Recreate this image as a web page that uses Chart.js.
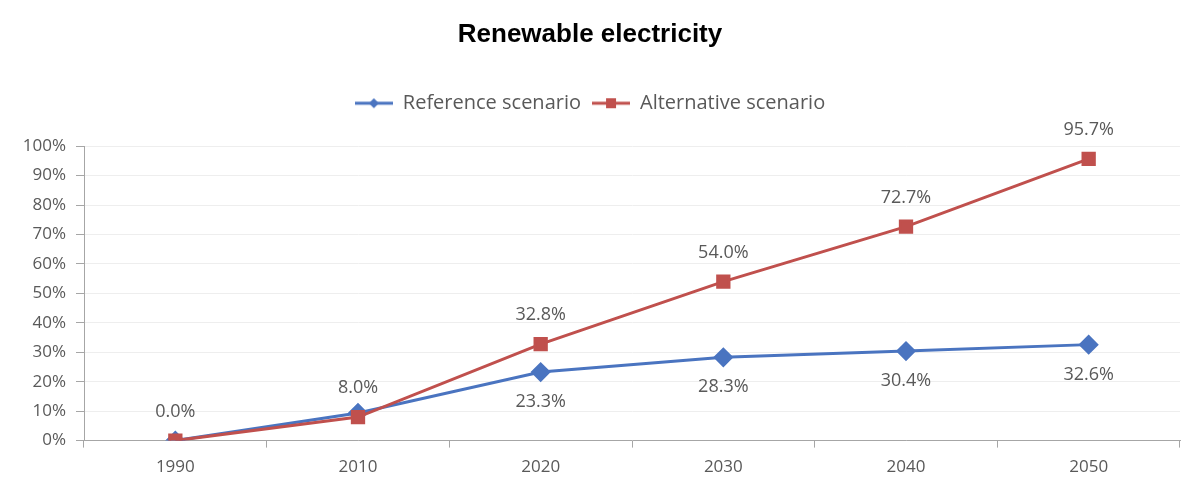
<!DOCTYPE html>
<html>
<head>
<meta charset="utf-8">
<script src="https://cdn.jsdelivr.net/npm/chart.js@4/dist/chart.umd.min.js"></script>
<style>
  html, body { margin: 0; padding: 0; background: #fff; }
  #wrap { width: 1195px; height: 486px; }
</style>
</head>
<body>
<div id="wrap"><canvas id="chart"></canvas></div>
<script>
// chart data
const years = ["1990", "2010", "2020", "2030", "2040", "2050"];
const referenceScenario = [0.0, 9.4, 23.3, 28.3, 30.4, 32.6];
const alternativeScenario = [0.0, 8.0, 32.8, 54.0, 72.7, 95.7];
const yTicks = [0, 10, 20, 30, 40, 50, 60, 70, 80, 90, 100];

const BLUE = "#4a74c0";
const RED = "#c0504d";
const TEXT = "#595959";
const FONT = "'Open Sans', sans-serif";

// small line + marker swatch for the legend
function swatch(color, shape) {
    const c = document.createElement("canvas");
    c.width = 38; c.height = 16;
    const ctx = c.getContext("2d");
    ctx.strokeStyle = color;
    ctx.lineWidth = 3;
    ctx.beginPath(); ctx.moveTo(0, 8); ctx.lineTo(38, 8); ctx.stroke();
    ctx.fillStyle = color;
    ctx.beginPath();
    if (shape === "diamond") {
        ctx.moveTo(19, 3); ctx.lineTo(24, 8); ctx.lineTo(19, 13); ctx.lineTo(14, 8);
    } else {
        ctx.rect(14, 3, 10, 10);
    }
    ctx.closePath(); ctx.fill();
    return c;
}
const legendIcons = [swatch(BLUE, "diamond"), swatch(RED, "square")];

// value labels: red above the marker, blue below (from 2020 on)
const valueLabels = {
    id: "valueLabels",
    afterDatasetsDraw(chart) {
        const ctx = chart.ctx;
        ctx.save();
        ctx.font = "18px " + FONT;
        ctx.fillStyle = TEXT;
        ctx.textAlign = "center";
        ctx.textBaseline = "middle";
        chart.data.datasets.forEach((ds, i) => {
            chart.getDatasetMeta(i).data.forEach((pt, j) => {
                if (i === 0 && j < 2) return;
                const dy = i === 0 ? 30 : -29;
                ctx.fillText(ds.data[j].toFixed(1) + "%", pt.x, pt.y + dy);
            });
        });
        ctx.restore();
    }
};

// extra room under the legend
const legendGap = {
    id: "legendGap",
    beforeInit(chart) {
        const fit = chart.legend.fit;
        chart.legend.fit = function () {
            fit.bind(chart.legend)();
            this.height += 23;
        };
    }
};

new Chart(document.getElementById("chart"), {
    type: "line",
    data: {
        labels: years,
        datasets: [
            {
                label: "Reference scenario",
                data: referenceScenario,
                borderColor: BLUE,
                backgroundColor: BLUE,
                borderWidth: 3,
                pointStyle: "rectRot",
                pointRadius: 8,
                pointHoverRadius: 8,
                fill: false,
                tension: 0,
                order: 1
            },
            {
                label: "Alternative scenario",
                data: alternativeScenario,
                borderColor: RED,
                backgroundColor: RED,
                borderWidth: 3,
                pointStyle: "rect",
                pointRadius: 8,
                pointHoverRadius: 8,
                fill: false,
                tension: 0,
                order: 0
            }
        ]
    },
    options: {
        responsive: true,
        maintainAspectRatio: false,
        animation: false,
        layout: { padding: { left: 0, right: 15, top: 0, bottom: 0 } },
        plugins: {
            title: {
                display: true,
                text: "Renewable electricity",
                color: "#000",
                font: { family: "'Liberation Sans', Arial, sans-serif", size: 26, weight: "bold" },
                padding: { top: 19, bottom: 32 }
            },
            legend: {
                display: true,
                labels: {
                    usePointStyle: true,
                    pointStyleWidth: 38,
                    color: TEXT,
                    font: { family: FONT, size: 20 },
                    padding: 11,
                    generateLabels(chart) {
                        return chart.data.datasets.map((ds, i) => ({
                            text: ds.label,
                            pointStyle: legendIcons[i],
                            fontColor: TEXT,
                            datasetIndex: i,
                            hidden: false,
                            lineWidth: 0
                        }));
                    }
                }
            },
            tooltip: { enabled: false }
        },
        scales: {
            x: {
                offset: true,
                grid: {
                    offset: true,
                    drawOnChartArea: false,
                    drawTicks: true,
                    tickLength: 7,
                    color: "#a6a6a6"
                },
                border: { color: "#a6a6a6" },
                ticks: { color: TEXT, font: { family: FONT, size: 17 }, padding: 9 }
            },
            y: {
                min: 0,
                max: 100,
                afterFit(scale) { scale.width = 84; },
                afterBuildTicks(scale) { scale.ticks = yTicks.map(v => ({ value: v })); },
                grid: { color: "#eeeeee", tickLength: 8, tickColor: "#a6a6a6" },
                border: { color: "#a6a6a6" },
                ticks: {
                    color: TEXT,
                    font: { family: FONT, size: 17 },
                    padding: 10,
                    callback: v => v + "%"
                }
            }
        }
    },
    plugins: [valueLabels, legendGap]
});
</script>
</body>
</html>
